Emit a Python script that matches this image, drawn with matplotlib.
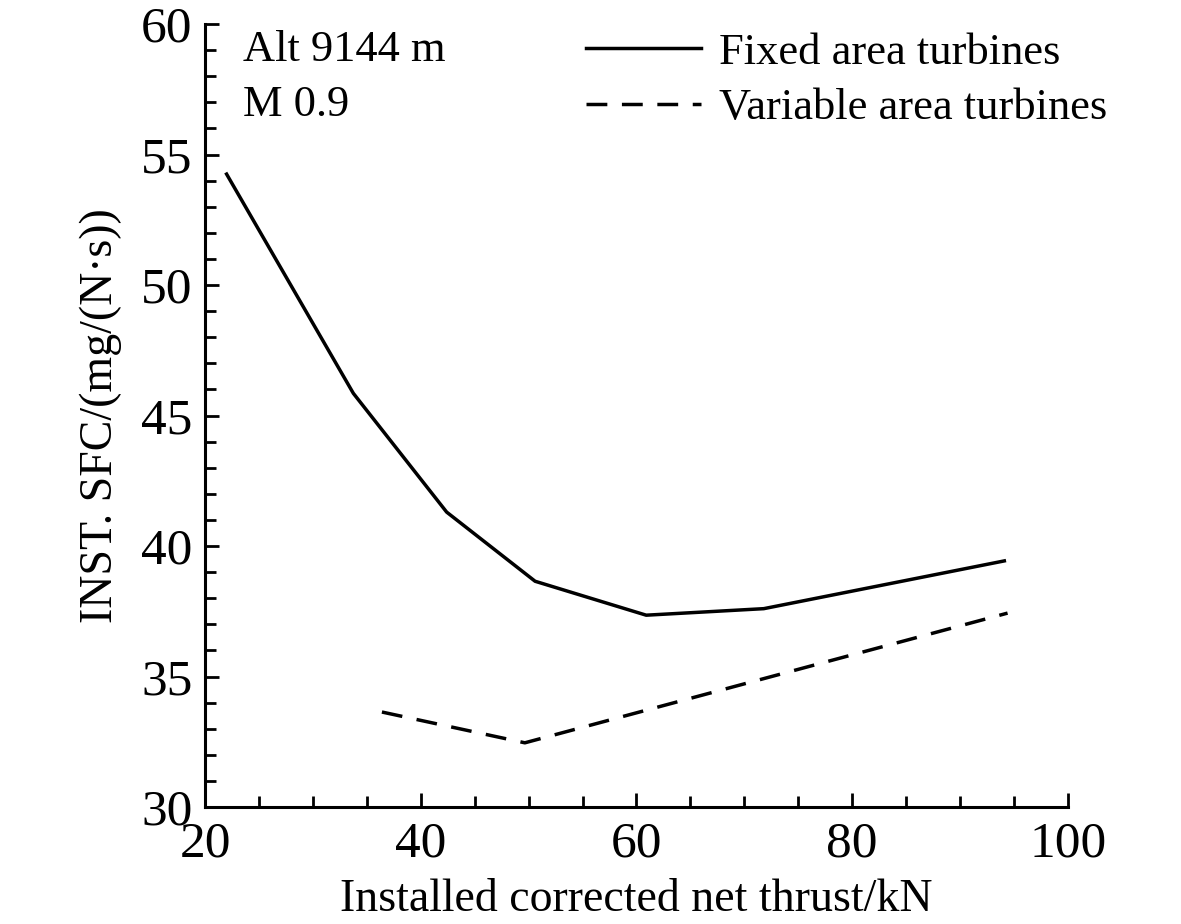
import matplotlib
matplotlib.use("Agg")
import matplotlib.pyplot as plt
from matplotlib.ticker import MultipleLocator

# fixed area turbines
fixed_thrust = [22.0, 33.75, 42.4, 50.6, 60.9, 71.8, 94.1]
fixed_sfc = [54.25, 45.85, 41.3, 38.65, 37.35, 37.6, 39.43]

# variable area turbines
var_thrust = [36.4, 49.65, 94.4]
var_sfc = [33.64, 32.46, 37.43]

plt.rcParams['font.family'] = ['Liberation Serif', 'DejaVu Serif']

fig = plt.figure(figsize=(11.81, 9.24), dpi=100)
ax = fig.add_axes([0.1736, 0.1266, 0.7307, 0.8474])

ax.plot(fixed_thrust, fixed_sfc, color='black', lw=2.5, label='Fixed area turbines')
ax.plot(var_thrust, var_sfc, color='black', lw=2.5, linestyle=(0, (6.0, 4.2)), label='Variable area turbines')

ax.set_xlim(20, 100)
ax.set_ylim(30, 60)
ax.xaxis.set_major_locator(MultipleLocator(20))
ax.xaxis.set_minor_locator(MultipleLocator(5))
ax.yaxis.set_major_locator(MultipleLocator(5))
ax.yaxis.set_minor_locator(MultipleLocator(1))
ax.tick_params(which='both', direction='in', width=2, labelsize=37)
ax.tick_params(axis='x', pad=10)
ax.tick_params(axis='y', pad=9)
ax.tick_params(which='major', length=10)
ax.tick_params(which='minor', length=8)
for s in ['top', 'right']:
    ax.spines[s].set_visible(False)
for s in ['left', 'bottom']:
    ax.spines[s].set_linewidth(2.2)

ax.set_xlabel('Installed corrected net thrust/kN', fontsize=33, labelpad=8)
ax.set_ylabel('INST. SFC/(mg/(N·s))', fontsize=33, labelpad=14)

ax.text(0.044, 0.993, 'Alt 9144 m\nM 0.9', transform=ax.transAxes, fontsize=32,
        va='top', ha='left', linespacing=1.5)

ax.legend(loc='upper right', bbox_to_anchor=(1.092, 1.04), frameon=False, fontsize=32,
          handlelength=2.6, handletextpad=0.4, labelspacing=0.35)

fig.savefig('out.png', dpi=100)
